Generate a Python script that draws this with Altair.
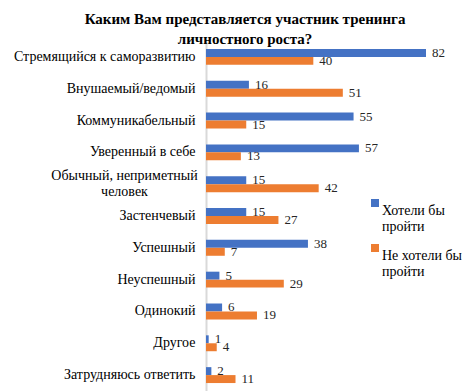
import altair as alt
import pandas as pd

categories = ["Стремящийся к саморазвитию", "Внушаемый/ведомый", "Коммуникабельный",
              "Уверенный в себе", "Обычный, неприметный человек", "Застенчевый",
              "Успешный", "Неуспешный", "Одинокий", "Другое", "Затрудняюсь ответить"]
series = ["Хотели бы пройти", "Не хотели бы пройти"]
want = [82, 16, 55, 57, 15, 15, 38, 5, 6, 1, 2]
not_want = [40, 51, 15, 13, 42, 27, 7, 29, 19, 4, 11]
colors = ["#4472C4", "#ED7D31"]
title_lines = ["Каким Вам представляется участник тренинга", "личностного роста?"]

rows = []
for c, a, b in zip(categories, want, not_want):
    rows.append({"cat": c, "series": series[0], "value": a})
    rows.append({"cat": c, "series": series[1], "value": b})
df = pd.DataFrame(rows)

FONT = "'Liberation Serif', 'Times New Roman', serif"
WRAP = "Обычный, неприметный человек"
test = "datum.value == '" + WRAP + "'"
label_expr = test + " ? ['Обычный, неприметный', 'человек'] : datum.value"

y = alt.Y("cat:N", sort=categories,
          scale=alt.Scale(paddingInner=0.5, paddingOuter=0.25),
          axis=alt.Axis(title=None, ticks=False, domainColor="#d9d9d9", domainWidth=2,
                        labelFont=FONT, labelFontSize=14, labelColor="#000",
                        labelPadding={"condition": {"test": test, "value": 82}, "value": 11},
                        labelAlign={"condition": {"test": test, "value": "center"}, "value": "right"},
                        labelOffset={"condition": {"test": test, "value": -8}, "value": 0},
                        labelLimit=300, labelLineHeight=16,
                        labelExpr=label_expr))
yoff = alt.YOffset("series:N", sort=series, scale=alt.Scale(paddingInner=0, paddingOuter=0))
x = alt.X("value:Q", scale=alt.Scale(domain=[0, 82], nice=False), axis=None)

base = alt.Chart(df).encode(y=y, yOffset=yoff, x=x)

bars = base.mark_bar().encode(
    color=alt.Color("series:N", sort=series,
                    scale=alt.Scale(domain=series, range=colors),
                    legend=alt.Legend(orient="none", legendX=162, legendY=163, title=None,
                                      symbolType="M-1,-3H1V-1H-1Z", symbolSize=64,
                                      symbolStrokeWidth=0, labelFont=FONT, labelFontSize=14,
                                      labelColor="#000", labelOffset=0, rowPadding=10,
                                      padding=0, labelLimit=200,
                                      labelExpr="[replace(datum.label, ' пройти', ''), 'пройти']"))
)
texts = base.mark_text(align="left", dx=6, font=FONT, fontSize=13, color="#262626").encode(
    text="value:Q")

chart = (bars + texts).properties(
    width=220, height=350,
    title=alt.TitleParams(text=title_lines, font=FONT, fontSize=15, fontWeight="bold",
                          anchor="middle", dx=-71, dy=10, offset=4, lineHeight=20, color="#000"),
    autosize=alt.AutoSizeParams(type="none"),
    padding={"left": 198, "top": 33, "right": 42, "bottom": 0},
).configure_view(stroke=None)

chart.save("out.html", embed_options={"renderer": "svg", "actions": False})
